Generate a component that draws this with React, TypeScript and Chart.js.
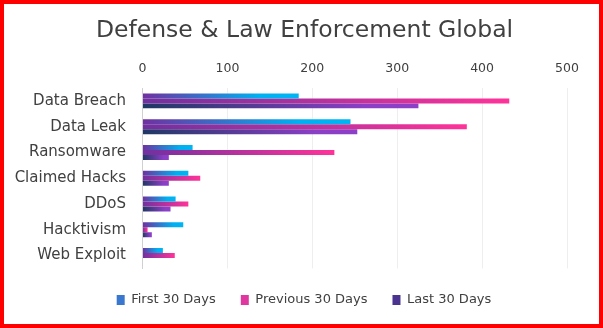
import React, { useEffect, useRef } from "react";
import { Chart, registerables } from "chart.js";

Chart.register(...registerables);

const categories = ["Data Breach", "Data Leak", "Ransomware", "Claimed Hacks", "DDoS", "Hacktivism", "Web Exploit"];
const seriesNames = ["First 30 Days", "Previous 30 Days", "Last 30 Days"];
const first30 = [184, 245, 59, 54, 39, 48, 24];
const previous30 = [432, 382, 226, 68, 54, 6, 38];
const last30 = [325, 253, 31, 31, 33, 11, 0];
const xTicks = [0, 100, 200, 300, 400, 500];

const FONT = "'DejaVu Sans', sans-serif";
const TEXT = "#404040";

// [stop position, colour] pairs for each series' horizontal gradient
const gradStops: [number, string][][] = [
  [[0, "#7030a0"], [0.75, "#00b0f0"], [1, "#00b4f2"]],
  [[0, "#7030a0"], [1, "#ff3399"]],
  [[0, "#1f3864"], [0.8, "#8a3fc6"], [1, "#8c40c8"]],
];
const legendColors = ["#3a78d0", "#e0369f", "#4a3490"];

function makeGradient(i: number) {
  return (ctx: any) => {
    const chart = ctx.chart;
    if (ctx.type !== "data" || !chart.chartArea) return legendColors[i];
    const xs = chart.scales.x;
    const x0 = xs.getPixelForValue(0);
    const x1 = xs.getPixelForValue(ctx.parsed.x);
    if (Math.abs(x1 - x0) < 1) return gradStops[i][0][1];
    const g = chart.ctx.createLinearGradient(x0, 0, x1, 0);
    gradStops[i].forEach(([p, c]) => g.addColorStop(p, c));
    return g;
  };
}

// centre the title and legend on the whole canvas rather than the padded area
const recentre = {
  id: "recentre",
  afterLayout(chart: any) {
    const w = chart.width;
    if (chart.titleBlock) {
      chart.titleBlock.left = 6;
      chart.titleBlock.right = w;
    }
    if (chart.legend) {
      chart.legend.left = 5;
      chart.legend.right = w;
    }
  },
};

export default function App() {
  const ref = useRef<HTMLCanvasElement | null>(null);
  useEffect(() => {
    if (!ref.current) return;
    const data = [first30, previous30, last30];
    const chart = new Chart(ref.current, {
      type: "bar",
      data: {
        labels: categories,
        datasets: seriesNames.map((name, i) => ({
          label: name,
          data: data[i],
          backgroundColor: makeGradient(i),
          borderWidth: 0,
          barPercentage: 1,
          categoryPercentage: 0.58,
        })),
      },
      plugins: [recentre],
      options: {
        indexAxis: "y",
        animation: false,
        responsive: true,
        maintainAspectRatio: false,
        layout: { padding: { left: 8, right: 32, top: 0, bottom: 7.6 } },
        plugins: {
          title: {
            display: true,
            text: "Defense & Law Enforcement Global",
            color: TEXT,
            font: { family: FONT, size: 23.5, weight: "normal" },
            padding: { top: 12.5, bottom: 5.3 },
          },
          legend: {
            position: "bottom",
            labels: {
              color: TEXT,
              font: { family: FONT, size: 13 },
              boxWidth: 8,
              boxHeight: 10,
              padding: 25,
              generateLabels: () =>
                seriesNames.map((n, i) => ({
                  text: n,
                  fillStyle: legendColors[i],
                  strokeStyle: legendColors[i],
                  lineWidth: 0,
                  hidden: false,
                  datasetIndex: i,
                  fontColor: TEXT,
                })),
            },
          },
          tooltip: { enabled: false },
        },
        scales: {
          x: {
            position: "top",
            min: 0,
            max: 500,
            afterBuildTicks: (s: any) => {
              s.ticks = xTicks.map((v) => ({ value: v }));
            },
            ticks: {
              color: TEXT,
              font: { family: FONT, size: 12.5 },
              padding: 11.5,
            },
            grid: { color: "#eeeeee", drawTicks: false },
            border: { display: false },
          },
          y: {
            afterFit: (s: any) => {
              s.width = 130.5;
            },
            ticks: {
              color: TEXT,
              font: { family: FONT, size: 15 },
              padding: 16.5,
            },
            grid: { display: false, drawTicks: false },
            border: { display: true, color: "#d0d0d0" },
          },
        },
      },
    });
    return () => chart.destroy();
  }, []);

  return (
    <div
      style={{
        position: "absolute",
        left: 0,
        top: 0,
        width: 603,
        height: 328,
        boxSizing: "border-box",
        border: "4px solid #ff0000",
        background: "#ffffff",
      }}
    >
      <div style={{ position: "relative", width: 595, height: 320 }}>
        <canvas ref={ref} />
      </div>
    </div>
  );
}
